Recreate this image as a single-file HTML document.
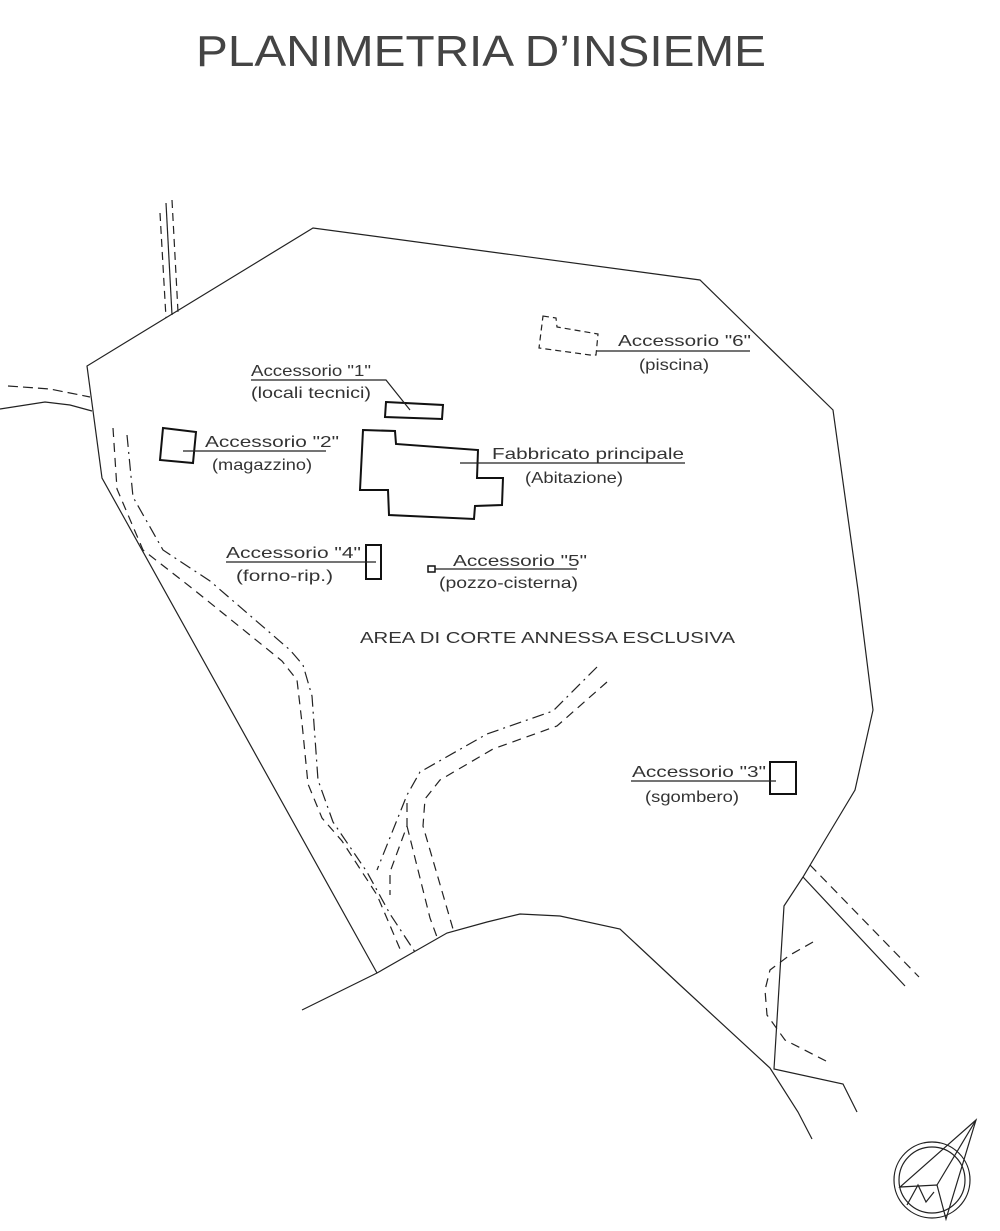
<!DOCTYPE html>
<html><head><meta charset="utf-8"><style>
html,body{margin:0;padding:0;background:#fff;}
svg{display:block;}
text{font-family:"Liberation Sans",sans-serif;fill:#333;}
</style></head><body>
<svg width="1000" height="1231" viewBox="0 0 1000 1231" xmlns="http://www.w3.org/2000/svg">
<g fill="none" stroke="#222" stroke-width="1.2">
<polyline points="302,1010 377,973 447,933 487,922 520,914 560,916 620,929 680,985 770,1068 798,1112 812,1139"/>
<polyline points="377,973 102,478 87,366 313,228 700,280 833,410 858,590 873,710 855,790 825,840 803,877 784,906 774,1069 843,1084 857,1112"/>
<line x1="166" y1="203" x2="172" y2="315"/>
<line x1="172" y1="200" x2="178" y2="312" stroke-dasharray="8,5"/>
<line x1="160" y1="213" x2="166" y2="318" stroke-dasharray="8,5"/>
<polyline points="0,409 45,402 70,405 92,411"/>
<polyline points="8,386 50,389 90,397" stroke-dasharray="10,5"/>
<line x1="803" y1="877" x2="905" y2="986"/>
<line x1="810" y1="865" x2="919" y2="977" stroke-dasharray="9,6"/>
<polyline points="813,942 790,955 770,970 765,990 767,1015 785,1040 826,1061" stroke-dasharray="9,6"/>
<polyline points="113,428 117,489 143,550 193,589 282,661 297,680 302,723 308,784 322,818 342,841 377,895 400,949" stroke-dasharray="9,6"/>
<polyline points="127,435 133,497 163,550 210,581 290,650 303,665 312,696 318,780 333,822 367,872 390,914 415,952" stroke-dasharray="12,5,2,5"/>
<polyline points="597,667 553,711 487,734 420,772 407,795 377,870" stroke-dasharray="12,5,2,5"/>
<polyline points="407,803 407,826 390,872 390,895" stroke-dasharray="9,6"/>
<polyline points="407,826 430,918 437,937" stroke-dasharray="9,6"/>
<polyline points="607,682 557,726 493,749 440,780 425,799 423,826 453,929" stroke-dasharray="9,6"/>
<g stroke-width="2" stroke="#111">
<polygon points="386,402 443,405 442,419 385,417"/>
<polygon points="363,430 395,431 396,444 478,450 477,478 503,478 502,505 475,506 474,519 389,515 388,490 360,490"/>
<polygon points="163,428 196,432 193,463 160,460"/>
<rect x="366" y="545" width="15" height="34"/>
<rect x="428" y="566" width="7" height="6" stroke-width="1.5"/>
<rect x="770" y="762" width="26" height="32"/>
</g>
<polygon points="543,316 556,318 557,327 598,334 596,355 590,355 539,348" stroke-dasharray="6,4"/>
<polyline points="251,380 386,380 410,410"/>
<line x1="183" y1="451" x2="326" y2="451"/>
<line x1="460" y1="463" x2="685" y2="463"/>
<line x1="226" y1="562" x2="376" y2="562"/>
<line x1="435" y1="569" x2="577" y2="569"/>
<line x1="597" y1="351" x2="750" y2="351"/>
<line x1="631" y1="781" x2="776" y2="781"/>
<circle cx="932" cy="1180" r="38"/>
<circle cx="932" cy="1180" r="33"/>
<polygon points="976,1120 900,1187 937,1185 946,1219"/>
<line x1="937" y1="1185" x2="976" y2="1120"/>
<polyline points="907,1205 918,1185 926,1202 934,1192"/>
</g>
<text x="196" y="66" font-size="44" textLength="570" lengthAdjust="spacingAndGlyphs" font-weight="200" style="fill:#444">PLANIMETRIA D’INSIEME</text>
<g font-size="16">
<text x="251" y="376" textLength="120" lengthAdjust="spacingAndGlyphs">Accessorio "1"</text>
<text x="251" y="398" textLength="120" lengthAdjust="spacingAndGlyphs">(locali tecnici)</text>
<text x="205" y="447" textLength="134" lengthAdjust="spacingAndGlyphs">Accessorio "2"</text>
<text x="212" y="470" textLength="100" lengthAdjust="spacingAndGlyphs">(magazzino)</text>
<text x="492" y="459" textLength="192" lengthAdjust="spacingAndGlyphs">Fabbricato principale</text>
<text x="525" y="483" textLength="98" lengthAdjust="spacingAndGlyphs">(Abitazione)</text>
<text x="226" y="558" textLength="135" lengthAdjust="spacingAndGlyphs">Accessorio "4"</text>
<text x="236" y="581" textLength="97" lengthAdjust="spacingAndGlyphs">(forno-rip.)</text>
<text x="453" y="566" textLength="134" lengthAdjust="spacingAndGlyphs">Accessorio "5"</text>
<text x="439" y="588" textLength="139" lengthAdjust="spacingAndGlyphs">(pozzo-cisterna)</text>
<text x="618" y="346" textLength="133" lengthAdjust="spacingAndGlyphs">Accessorio "6"</text>
<text x="639" y="370" textLength="70" lengthAdjust="spacingAndGlyphs">(piscina)</text>
<text x="632" y="777" textLength="134" lengthAdjust="spacingAndGlyphs">Accessorio "3"</text>
<text x="645" y="802" textLength="94" lengthAdjust="spacingAndGlyphs">(sgombero)</text>
<text x="360" y="643" textLength="375" lengthAdjust="spacingAndGlyphs">AREA DI CORTE ANNESSA ESCLUSIVA</text>
</g>
</svg>
</body></html>
